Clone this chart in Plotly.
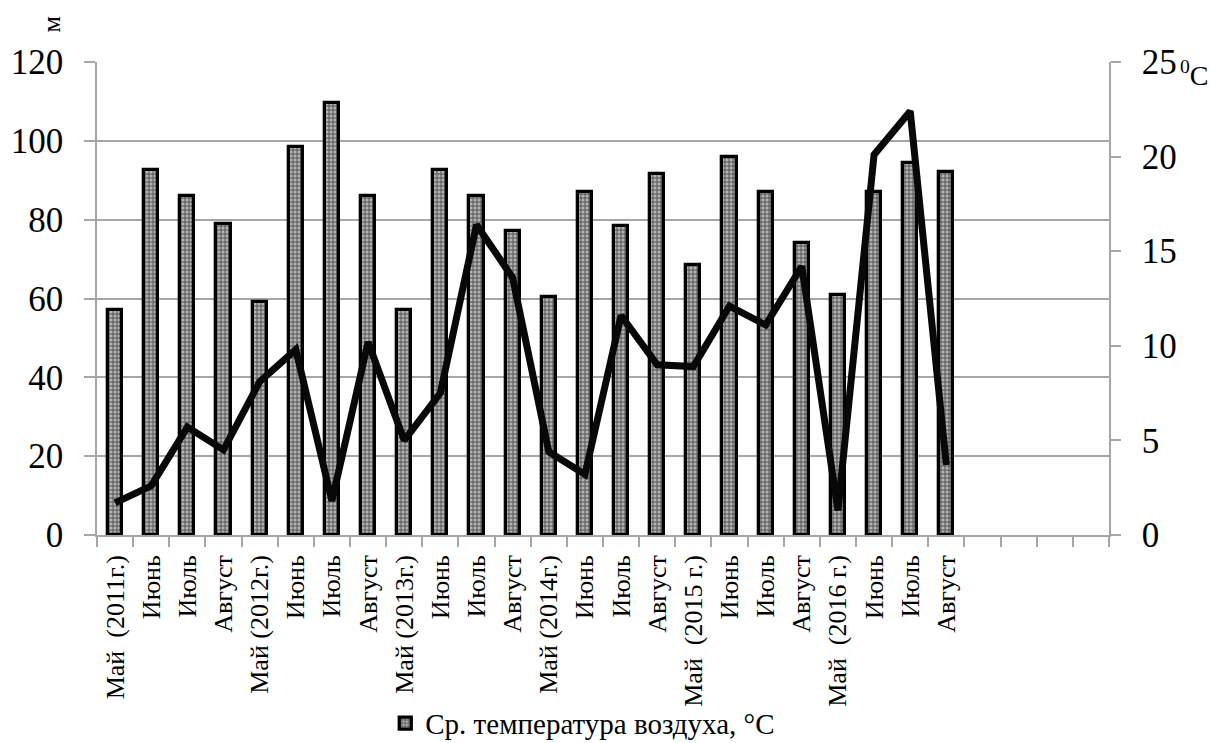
import plotly.graph_objects as go

# Month labels (May–August, 2011–2016)
months = [
    "Май\u00a0\u00a0(2011г.)", "Июнь", "Июль", "Август",
    "Май (2012г.)", "Июнь", "Июль", "Август",
    "Май (2013г.)", "Июнь", "Июль", "Август",
    "Май (2014г.)", "Июнь", "Июль", "Август",
    "Май\u00a0\u00a0(2015 г.)", "Июнь", "Июль", "Август",
    "Май\u00a0\u00a0(2016 г.)", "Июнь", "Июль", "Август",
]

# Bars, left axis (м)
depth_m = [57.0, 92.5, 86.0, 79.0, 59.0, 98.5, 109.5, 86.0,
           57.0, 92.5, 86.0, 77.0, 60.5, 87.0, 78.5, 91.5,
           68.5, 96.0, 87.0, 74.0, 61.0, 87.0, 94.5, 92.0]

# Line, right axis (°C)
air_temp = [1.7, 2.6, 5.7, 4.5, 8.1, 9.8, 1.8, 10.2,
            5.0, 7.5, 16.4, 13.6, 4.4, 3.2, 11.6, 9.0,
            8.9, 12.1, 11.1, 14.2, 1.3, 20.1, 22.4, 3.7]

left_ticks = [0, 20, 40, 60, 80, 100, 120]
right_ticks = [0, 5, 10, 15, 20, 25]

n_slots = 28  # four empty slots at the right end of the axis
x = list(range(len(months)))

FONT = "Liberation Serif"
GRID = "#a6a6a6"

fig = go.Figure()

fig.add_trace(go.Bar(
    x=x, y=depth_m,
    width=0.39,
    name="Ср. температура воздуха, °C",
    marker=dict(
        color="#777777",
        line=dict(color="#000000", width=3.3),
        pattern=dict(shape=".", fgcolor="#ffffff", bgcolor="#6a6a6a",
                     size=4, solidity=0.45),
    ),
    yaxis="y",
    showlegend=True,
))

fig.add_trace(go.Scatter(
    x=x, y=air_temp,
    mode="lines",
    line=dict(color="#080808", width=7),
    yaxis="y2",
    showlegend=False,
))

fig.update_layout(
    width=1211, height=743,
    margin=dict(l=97, r=102, t=62, b=208, autoexpand=False),
    paper_bgcolor="white",
    plot_bgcolor="white",
    font=dict(family=FONT, color="black"),
    bargap=0,
    xaxis=dict(
        range=[-0.5, n_slots - 0.5],
        tickmode="array",
        tickvals=x,
        ticktext=months,
        tickangle=-90,
        ticks="",
        ticklabelstandoff=8,
        tickfont=dict(size=26, family=FONT),
        automargin=False,
        showgrid=False,
        showline=True,
        linecolor=GRID,
        linewidth=1.5,
        zeroline=False,
        minor=dict(ticks="outside", tickmode="linear", tick0=-0.5, dtick=1,
                   ticklen=10, tickcolor=GRID, tickwidth=1.5, showgrid=False),
    ),
    yaxis=dict(
        range=[0, 120],
        tickmode="array",
        tickvals=left_ticks,
        ticks="outside",
        ticklen=11,
        tickcolor=GRID,
        tickwidth=1.5,
        ticklabelstandoff=14,
        tickfont=dict(size=35, family=FONT),
        automargin=False,
        showgrid=True,
        gridcolor=GRID,
        gridwidth=1.5,
        showline=True,
        linecolor=GRID,
        linewidth=1.5,
        zeroline=False,
    ),
    yaxis2=dict(
        range=[0, 25],
        overlaying="y",
        side="right",
        tickmode="array",
        tickvals=right_ticks,
        ticks="outside",
        ticklen=10,
        tickcolor=GRID,
        tickwidth=1.5,
        ticklabelstandoff=14,
        tickfont=dict(size=35, family=FONT),
        automargin=False,
        showgrid=False,
        showline=True,
        linecolor=GRID,
        linewidth=1.5,
        zeroline=False,
    ),
    legend=dict(
        x=0.48, y=-0.398,
        xanchor="center", yanchor="middle",
        orientation="h",
        font=dict(size=29, family=FONT),
        bgcolor="rgba(0,0,0,0)",
    ),
    annotations=[
        dict(text="м", xref="paper", yref="paper",
             x=-0.045, y=1.08, xanchor="center", yanchor="middle",
             textangle=-90, showarrow=False,
             font=dict(size=26, family=FONT)),
        dict(text="<sup>0</sup>C", xref="paper", yref="paper",
             x=1.068, y=0.975, xanchor="left", yanchor="middle",
             showarrow=False,
             font=dict(size=28, family=FONT)),
    ],
)

fig.write_html("out.html")
